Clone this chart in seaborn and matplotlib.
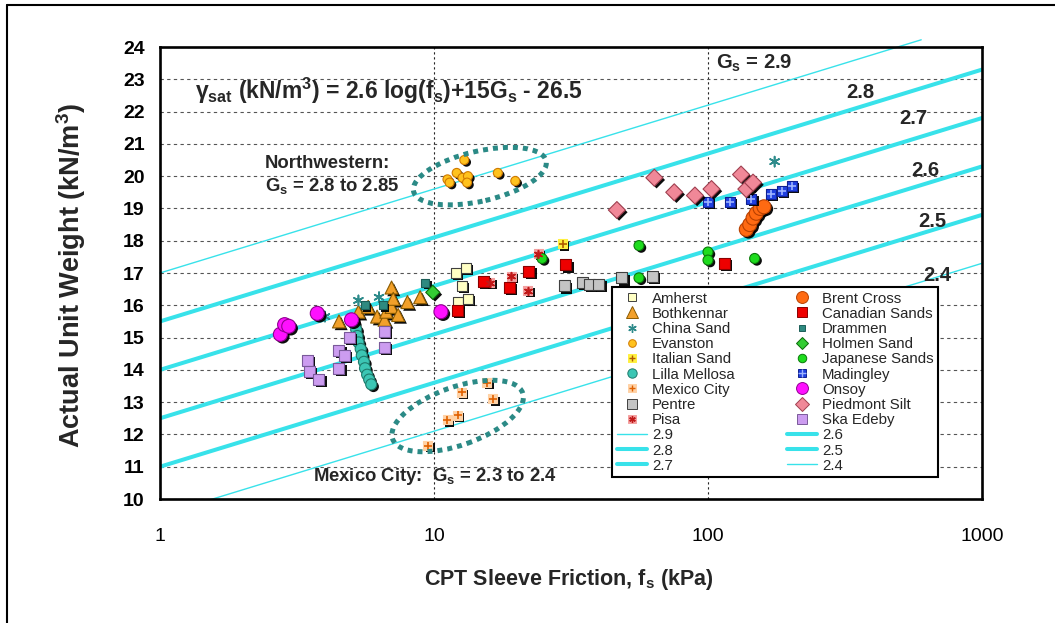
import numpy as np
import pandas as pd
import seaborn as sns
import matplotlib
matplotlib.use("Agg")
import matplotlib.pyplot as plt
import matplotlib.patheffects as pe
from matplotlib.lines import Line2D
from matplotlib.patches import Ellipse
from matplotlib.transforms import ScaledTranslation
from matplotlib.ticker import NullFormatter, LogLocator, MultipleLocator

# ---------------- site data: sleeve friction fs (kPa), unit weight (kN/m3)
amherst_fs = [12.0, 13.1, 12.6, 12.2, 13.3]
amherst_gw = [17.0, 17.15, 16.6, 16.1, 16.2]
bothkennar_fs = [4.5, 5.3, 5.75, 6.2, 6.6, 6.7, 7.0, 7.0, 7.1, 7.4, 8.0, 8.9]
bothkennar_gw = [15.5, 15.8, 15.95, 15.65, 15.55, 15.8, 16.55, 15.95, 16.2, 15.7, 16.1, 16.25]
china_fs = [4.0, 5.3, 6.3, 175]
china_gw = [15.65, 16.15, 16.25, 20.45]
evanston_fs = [11.2, 11.4, 12.1, 12.7, 13.3, 13.2, 17.1, 19.8, 12.9]
evanston_gw = [19.9, 19.8, 20.1, 19.95, 20.0, 19.8, 20.1, 19.85, 20.5]
italian_fs = [29.5]
italian_gw = [17.9]
lilla_fs = [5.1, 5.2, 5.25, 5.3, 5.4, 5.45, 5.55, 5.6, 5.7, 5.8, 5.9]
lilla_gw = [15.45, 15.25, 15.05, 14.85, 14.65, 14.45, 14.25, 14.05, 13.85, 13.7, 13.55]
mexico_fs = [9.5, 11.2, 12.2, 12.6, 15.6, 16.4]
mexico_gw = [11.65, 12.45, 12.6, 13.3, 13.6, 13.1]
pentre_fs = [30.0, 34.9, 37.0, 40.0, 48.5, 62.6]
pentre_gw = [16.6, 16.7, 16.65, 16.65, 16.85, 16.9]
pisa_fs = [16.0, 19.1, 22.0, 24.0]
pisa_gw = [16.7, 16.9, 16.45, 17.6]
brent_fs = [138, 142, 146, 150, 155, 160]
brent_gw = [18.35, 18.5, 18.7, 18.85, 19.0, 19.05]
canadian_fs = [12.2, 15.1, 18.8, 22.2, 30.3, 115]
canadian_gw = [15.85, 16.75, 16.55, 17.05, 17.25, 17.3]
drammen_fs = [5.6, 6.5, 9.3]
drammen_gw = [16.0, 16.0, 16.7]
holmen_fs = [9.9]
holmen_gw = [16.4]
japanese_fs = [24.8, 56, 56, 100, 100, 148]
japanese_gw = [17.45, 17.85, 16.85, 17.65, 17.4, 17.45]
madingley_fs = [100, 120, 144, 170, 186, 203]
madingley_gw = [19.2, 19.2, 19.3, 19.45, 19.55, 19.7]
onsoy_fs = [2.75, 2.85, 2.95, 3.75, 5.0, 10.6]
onsoy_gw = [15.1, 15.4, 15.35, 15.75, 15.55, 15.8]
piedmont_fs = [46.5, 63.7, 75.3, 89.6, 103, 132, 138, 146]
piedmont_gw = [18.95, 19.95, 19.5, 19.4, 19.6, 20.05, 19.6, 19.8]
ska_fs = [3.45, 3.5, 3.8, 4.5, 4.5, 4.7, 4.9, 6.6, 6.6]
ska_gw = [14.3, 13.95, 13.7, 14.6, 14.05, 14.45, 15.0, 15.2, 14.7]

site_names = ["Amherst", "Bothkennar", "China Sand", "Evanston", "Italian Sand",
              "Lilla Mellosa", "Mexico City", "Pentre", "Pisa",
              "Brent Cross", "Canadian Sands", "Drammen", "Holmen Sand",
              "Japanese Sands", "Madingley", "Onsoy", "Piedmont Silt", "Ska Edeby"]
site_fs = [amherst_fs, bothkennar_fs, china_fs, evanston_fs, italian_fs,
           lilla_fs, mexico_fs, pentre_fs, pisa_fs,
           brent_fs, canadian_fs, drammen_fs, holmen_fs,
           japanese_fs, madingley_fs, onsoy_fs, piedmont_fs, ska_fs]
site_gw = [amherst_gw, bothkennar_gw, china_gw, evanston_gw, italian_gw,
           lilla_gw, mexico_gw, pentre_gw, pisa_gw,
           brent_gw, canadian_gw, drammen_gw, holmen_gw,
           japanese_gw, madingley_gw, onsoy_gw, piedmont_gw, ska_gw]

# specific gravity contours: gamma = 2.6 log(fs) + 15 Gs - 26.5
gs_values = [2.9, 2.8, 2.7, 2.6, 2.5, 2.4]
gs_labels = ["2.9", "2.8", "2.7", "2.6", "2.5", "2.4"]

x_ticks = [1, 10, 100, 1000]
x_tick_labels = ["1", "10", "100", "1000"]
y_ticks = list(range(10, 25))

df = pd.DataFrame({
    "site": np.repeat(site_names, [len(v) for v in site_fs]),
    "fs": np.concatenate(site_fs),
    "gw": np.concatenate(site_gw),
})

# ---------------- marker styles: (marker, size px, face, edge, overlay glyph, glyph colour)
AST = (6, 2, 0)
styles = {
    "Amherst":        ("s", 10, "#FFFFC4", "#404040", None, None),
    "Bothkennar":     ("^", 13, "#F2A02A", "#8A5A00", None, None),
    "China Sand":     (AST, 10, "#2E8B8B", "#2E8B8B", None, None),
    "Evanston":       ("o", 9, "#FFC21E", "#D07A00", None, None),
    "Italian Sand":   ("s", 9, "#FFF040", "#FFF040", "+", "#B05A00"),
    "Lilla Mellosa":  ("o", 11, "#3CC6B4", "#1E7A6C", None, None),
    "Mexico City":    ("s", 9, "#FFD2A6", "#FFD2A6", "+", "#E06000"),
    "Pentre":         ("s", 11, "#C4C4C4", "#404040", None, None),
    "Pisa":           ("s", 9, "#F4A0A0", "#F4A0A0", AST, "#C01818"),
    "Brent Cross":    ("o", 14, "#FF6A12", "#B84000", None, None),
    "Canadian Sands": ("s", 11, "#EE0000", "#8A0000", None, None),
    "Drammen":        ("s", 8, "#2E8A80", "#1C5E58", None, None),
    "Holmen Sand":    ("D", 10, "#33CC33", "#0A6A0A", None, None),
    "Japanese Sands": ("o", 10, "#1EDC1E", "#0A7A0A", None, None),
    "Madingley":      ("s", 10, "#2040E0", "#102090", "+", "#9FB4FF"),
    "Onsoy":          ("o", 14, "#FF10FF", "#900090", None, None),
    "Piedmont Silt":  ("D", 12, "#F08898", "#A04050", None, None),
    "Ska Edeby":      ("s", 11, "#CC9CF0", "#7A5A9A", None, None),
}

LINE_COL = "#38E2EA"
THICK, THIN = 2.9, 1.0
gs_widths = {2.9: THIN, 2.8: THICK, 2.7: THICK, 2.6: THICK, 2.5: THICK, 2.4: THIN}
ELL_COL = "#2B8A86"

sns.set_style("white")
plt.rcParams["font.family"] = ["Liberation Sans", "DejaVu Sans"]
plt.rcParams["mathtext.fontset"] = "custom"
plt.rcParams["mathtext.rm"] = "Liberation Sans"
plt.rcParams["mathtext.it"] = "Liberation Sans:italic"
plt.rcParams["mathtext.bf"] = "Liberation Sans:bold"
plt.rcParams["mathtext.default"] = "bf"

W, H = 1055, 623
fig = plt.figure(figsize=(W / 100, H / 100), dpi=100)
fig.patch.set_facecolor("white")
ax = fig.add_axes([160 / W, 1 - 499 / H, 822 / W, 452 / H])
ax.set_xscale("log")
ax.set_xlim(1, 1000)
ax.set_ylim(10, 24)


def px2pt(d):
    return (0.72 * d) ** 2


# ---------------- Gs contour lines
for gs in gs_values:
    x_end = 600 if gs == 2.9 else 1000
    xs = np.array([1.0, x_end])
    ys = 2.6 * np.log10(xs) + 15 * gs - 26.5
    sns.lineplot(x=xs, y=ys, ax=ax, color=LINE_COL, linewidth=gs_widths[gs],
                 estimator=None, sort=False, legend=False, zorder=2,
                 clip_on=(gs != 2.9))

# ---------------- site points with drop shadow
shadow = [pe.SimplePatchShadow(offset=(1.6, -1.6), shadow_rgbFace="black", alpha=0.95),
          pe.Normal()]
for name in site_names:
    mk, size, face, edge, glyph, gcol = styles[name]
    sub = df[df["site"] == name]
    n0 = len(ax.collections)
    if mk == AST:
        sns.scatterplot(data=sub, x="fs", y="gw", ax=ax, marker=mk, s=px2pt(size),
                        color=face, linewidth=1.2, legend=False, zorder=3)
    else:
        sns.scatterplot(data=sub, x="fs", y="gw", ax=ax, marker=mk, s=px2pt(size),
                        color=face, edgecolor=edge, linewidth=0.8, legend=False, zorder=3)
    ax.collections[n0].set_path_effects(shadow)
    if glyph is not None:
        sns.scatterplot(data=sub, x="fs", y="gw", ax=ax, marker=glyph,
                        s=px2pt(size * 0.85), color=gcol, linewidth=1.2,
                        legend=False, zorder=3.5)

ax.set_xlabel("")
ax.set_ylabel("")

# ---------------- grid, ticks, frame
ax.set_axisbelow(True)
ax.yaxis.grid(True, which="major", color="#555555", linestyle=(0, (3, 3)), linewidth=0.8)
ax.xaxis.grid(True, which="major", color="#222222", linestyle=(0, (2, 2.5)), linewidth=0.8)
ax.set_xticks(x_ticks)
ax.set_xticklabels(x_tick_labels)
ax.xaxis.set_minor_locator(LogLocator(base=10, subs=np.arange(2, 10)))
ax.xaxis.set_minor_formatter(NullFormatter())
ax.set_yticks(y_ticks)
ax.set_yticklabels([str(v) for v in y_ticks], fontweight="bold")
ax.yaxis.set_minor_locator(MultipleLocator(0.2))
ax.tick_params(axis="both", which="major", direction="out", length=7, width=1.6,
               color="black", labelsize=14, labelcolor="black")
ax.tick_params(axis="both", which="minor", direction="out", length=4.5, width=1.1,
               color="black")
ax.tick_params(axis="x", which="major", pad=14)
ax.tick_params(axis="y", which="major", pad=4)
for sp in ax.spines.values():
    sp.set_visible(True)
    sp.set_color("black")
    sp.set_linewidth(1.9)

# ---------------- annotations
ax.text(1.34, 22.65, "γ$_{sat}$ (kN/m$^3$) = 2.6 log(f$_s$)+15G$_s$ - 26.5",
        fontsize=16.5, fontweight="bold", va="center", ha="left", zorder=6)
ax.text(148, 23.5, "G$_s$ = 2.9", fontsize=14.5, fontweight="bold", ha="center", va="center")
label_pos = {"2.8": (359, 22.6), "2.7": (560, 21.8), "2.6": (620, 20.19),
             "2.5": (657, 18.58), "2.4": (685, 16.93)}
for txt, (lx, ly) in label_pos.items():
    ax.text(lx, ly, txt, fontsize=14.5, fontweight="bold", ha="center", va="center")
ax.text(2.42, 20.4, "Northwestern:", fontsize=13.3, fontweight="bold", ha="left", va="center")
ax.text(2.42, 19.69, "G$_s$ = 2.8 to 2.85", fontsize=13.3, fontweight="bold", ha="left", va="center")
ax.text(3.62, 10.71, "Mexico City:  G$_s$ = 2.3 to 2.4", fontsize=13.3, fontweight="bold",
        ha="left", va="center")

# dotted ellipses drawn in screen units around the two clusters
for (cx, cy, a_px, b_px, ang) in [(14.7, 20.0, 68, 25, 13), (12.2, 12.57, 69, 29, 19.5)]:
    ell = Ellipse((0, 0), width=2 * a_px / 100, height=2 * b_px / 100, angle=ang,
                  transform=fig.dpi_scale_trans + ScaledTranslation(cx, cy, ax.transData),
                  fill=False, edgecolor=ELL_COL, linewidth=3.6, linestyle=(0, (1, 1)),
                  zorder=4)
    ell.set_capstyle("butt")
    ax.add_artist(ell)

# ---------------- axis titles
fig.text(71 / W, 1 - 275 / H, "Actual Unit Weight (kN/m$^3$)", rotation=90,
         fontsize=19.5, fontweight="bold", ha="center", va="center")
fig.text(569 / W, 1 - 580 / H, "CPT Sleeve Friction, f$_s$ (kPa)",
         fontsize=15.5, fontweight="bold", ha="center", va="center")

# ---------------- legend
def site_handle(name):
    mk, size, face, edge, glyph, gcol = styles[name]
    ms = size * 0.72 * 0.85
    if mk == AST:
        base = Line2D([], [], linestyle="None", marker=mk, markersize=ms,
                      color=face, markeredgewidth=1.0)
    else:
        base = Line2D([], [], linestyle="None", marker=mk, markersize=ms,
                      markerfacecolor=face, markeredgecolor=edge, markeredgewidth=0.7)
    if glyph is None:
        return base
    top = Line2D([], [], linestyle="None", marker=glyph, markersize=ms * 0.85,
                 color=gcol, markeredgewidth=1.0)
    return (base, top)


handles, labels = [], []
for name in site_names[:9]:
    handles.append(site_handle(name)); labels.append(name)
for gs, lab in zip(gs_values[:3], gs_labels[:3]):
    handles.append(Line2D([], [], color=LINE_COL, linewidth=gs_widths[gs])); labels.append(lab)
for name in site_names[9:]:
    handles.append(site_handle(name)); labels.append(name)
for gs, lab in zip(gs_values[3:], gs_labels[3:]):
    handles.append(Line2D([], [], color=LINE_COL, linewidth=gs_widths[gs])); labels.append(lab)

leg = ax.legend(handles, labels, ncol=2, loc="upper left", bbox_to_anchor=(0.55, 0.469),
                bbox_transform=ax.transAxes, fontsize=10.8, frameon=True, fancybox=False,
                edgecolor="black", framealpha=1, labelspacing=0.08, handlelength=2.0,
                handletextpad=0.35, columnspacing=3.5, borderpad=0.3, borderaxespad=0)
leg.get_frame().set_linewidth(1.5)
leg.set_zorder(10)

# ---------------- outer frame of the figure
fig.add_artist(Line2D([7 / W, 7 / W], [0, 1 - 5 / H], transform=fig.transFigure,
                      color="black", linewidth=1.5))
fig.add_artist(Line2D([7 / W, 1], [1 - 5 / H, 1 - 5 / H], transform=fig.transFigure,
                      color="black", linewidth=1.5))

fig.savefig("out.png", dpi=100)
